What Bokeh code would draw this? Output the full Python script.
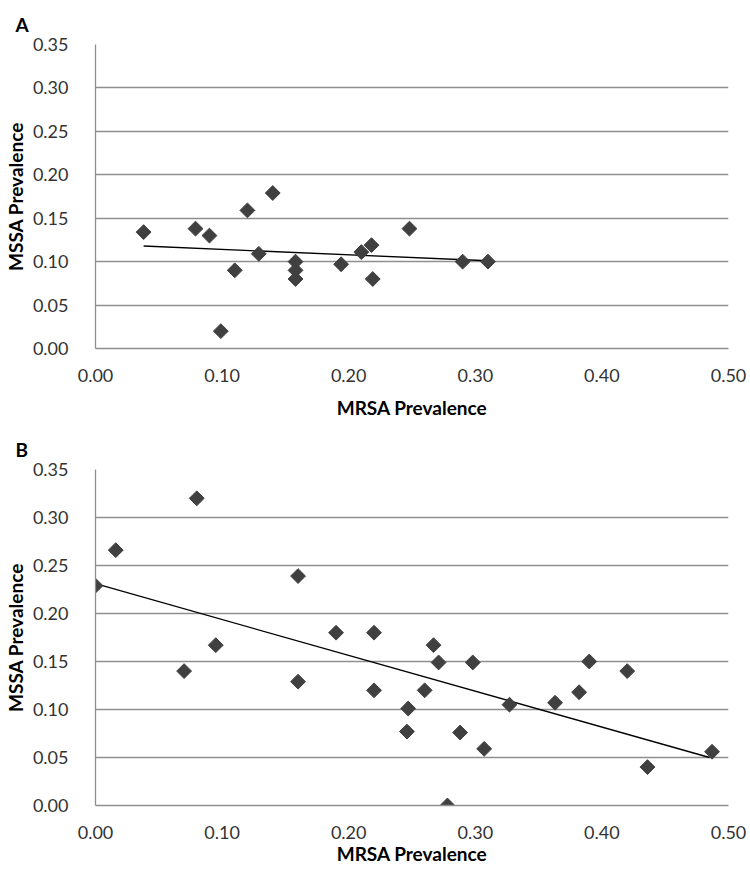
import numpy as np
from bokeh.plotting import figure
from bokeh.layouts import column
from bokeh.models import FixedTicker, NumeralTickFormatter, Range1d
from bokeh.embed import file_html
from bokeh.resources import INLINE

# ---- data ----
x_ticks = [0.0, 0.1, 0.2, 0.3, 0.4, 0.5]
y_ticks = [0.0, 0.05, 0.10, 0.15, 0.20, 0.25, 0.30, 0.35]

a_mrsa = [0.038, 0.079, 0.090, 0.120, 0.140, 0.110, 0.129, 0.158, 0.158, 0.158,
          0.099, 0.194, 0.210, 0.218, 0.219, 0.248, 0.290, 0.310]
a_mssa = [0.134, 0.138, 0.130, 0.159, 0.179, 0.090, 0.109, 0.100, 0.090, 0.080,
          0.020, 0.097, 0.111, 0.119, 0.080, 0.138, 0.100, 0.100]
a_trend_x = [0.038, 0.310]
a_trend_y = [0.118, 0.101]

b_mrsa = [0.000, 0.016, 0.080, 0.160, 0.070, 0.095, 0.160, 0.190, 0.220, 0.220,
          0.267, 0.271, 0.298, 0.260, 0.247, 0.246, 0.288, 0.307, 0.278, 0.327,
          0.363, 0.382, 0.390, 0.420, 0.436, 0.487]
b_mssa = [0.229, 0.266, 0.320, 0.239, 0.140, 0.167, 0.129, 0.180, 0.180, 0.120,
          0.167, 0.149, 0.149, 0.120, 0.101, 0.077, 0.076, 0.059, 0.000, 0.105,
          0.107, 0.118, 0.150, 0.140, 0.040, 0.056]
b_trend_x = [0.000, 0.485]
b_trend_y = [0.231, 0.050]

FONT = "Lato"
GRID = "#8f8f8f"
MARK = "#404040"


def make_panel(letter, xs, ys, tx, ty, height, top, bottom,
               title_standoff, tick_standoff, label_standoff):
    p = figure(width=750, height=height, output_backend="svg", toolbar_location=None,
               x_range=Range1d(0, 0.5), y_range=Range1d(0, 0.35),
               min_border_left=93, min_border_right=22,
               min_border_top=top, min_border_bottom=bottom)
    p.outline_line_color = None
    p.background_fill_color = "white"
    p.border_fill_color = "white"

    p.title.text = letter
    p.title.align = "left"
    p.title.offset = -80
    p.title.standoff = title_standoff
    p.title.text_font = FONT
    p.title.text_font_size = "19px"
    p.title.text_font_style = "bold"
    p.title.text_color = "black"

    p.xgrid.visible = False
    p.ygrid.grid_line_color = GRID
    p.ygrid.grid_line_width = 1.3

    p.xaxis.ticker = FixedTicker(ticks=x_ticks)
    p.yaxis.ticker = FixedTicker(ticks=y_ticks)
    for ax in (p.xaxis[0], p.yaxis[0]):
        ax.formatter = NumeralTickFormatter(format="0.00")
        ax.major_tick_line_color = None
        ax.minor_tick_line_color = None
        ax.axis_line_color = GRID
        ax.axis_line_width = 1.3
        ax.major_label_text_font = FONT
        ax.major_label_text_font_size = "18px"
        ax.major_label_text_color = "#333333"
        ax.axis_label_text_font = FONT
        ax.axis_label_text_font_size = "19px"
        ax.axis_label_text_font_style = "bold"
        ax.axis_label_text_color = "black"
    p.xaxis.axis_label = "MRSA Prevalence"
    p.yaxis.axis_label = "MSSA Prevalence"
    p.xaxis.major_label_standoff = tick_standoff
    p.xaxis.axis_label_standoff = label_standoff
    p.yaxis.major_label_standoff = 21
    p.yaxis.axis_label_standoff = 3

    p.line(tx, ty, line_color="black", line_width=1.3)
    p.scatter(xs, ys, marker="square", size=10.5, angle=np.pi / 4,
              fill_color=MARK, line_color=MARK)
    return p


pA = make_panel("A", a_mrsa, a_mssa, a_trend_x, a_trend_y,
                height=425, top=44, bottom=77,
                title_standoff=18, tick_standoff=14, label_standoff=11)
pB = make_panel("B", b_mrsa, b_mssa, b_trend_x, b_trend_y,
                height=446, top=44, bottom=66,
                title_standoff=17, tick_standoff=14, label_standoff=0)

layout = column(pA, pB)
open("out.html", "w").write(file_html(layout, INLINE))
